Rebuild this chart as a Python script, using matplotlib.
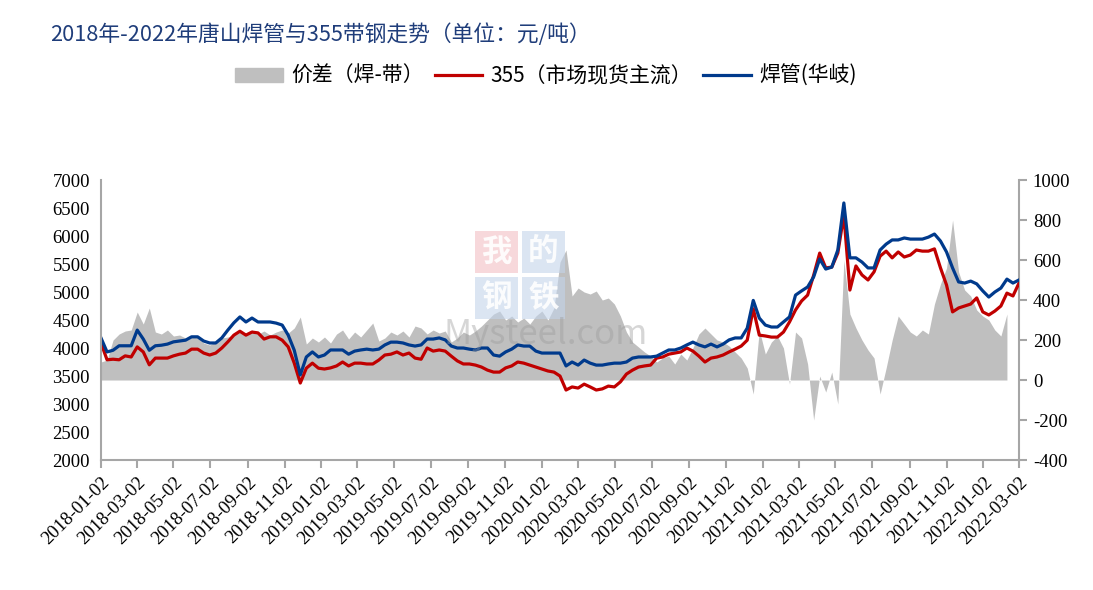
import numpy as np
import pandas as pd
import matplotlib
matplotlib.use('Agg')
import matplotlib.pyplot as plt
from matplotlib.patches import Patch, Rectangle
from matplotlib.lines import Line2D

plt.rcParams['font.family'] = ['Noto Sans CJK SC', 'DejaVu Sans']

# 10-day sampling, 2018-01-02 .. 2022-03-02
dates = pd.date_range('2018-01-02', periods=153, freq='10D')

# 焊管(华岐), 元/吨
weld = [4180, 3930, 3960, 4040, 4040, 4040, 4320, 4160, 3960, 4040,
        4050, 4070, 4110, 4125, 4140, 4200, 4200, 4125, 4090, 4090,
        4180, 4320, 4450, 4555, 4465, 4535, 4465, 4465, 4465, 4445,
        4410, 4230, 3960, 3520, 3840, 3930, 3840, 3875, 3965, 3965,
        3965, 3890, 3945, 3965, 3980, 3965, 3980, 4055, 4105, 4105,
        4090, 4055, 4035, 4055, 4160, 4160, 4180, 4145, 4035, 4000,
        4000, 3980, 3965, 4000, 4000, 3875, 3855, 3930, 3980, 4055,
        4035, 4035, 3945, 3910, 3910, 3910, 3910, 3680, 3750, 3695,
        3785, 3730, 3695, 3695, 3715, 3730, 3730, 3750, 3820, 3840,
        3840, 3840, 3855, 3910, 3965, 3965, 4000, 4055, 4105, 4055,
        4020, 4070, 4020, 4070, 4145, 4180, 4180, 4355, 4850, 4535,
        4410, 4375, 4375, 4465, 4555, 4945, 5020, 5090, 5270, 5590,
        5410, 5445, 5750, 6590, 5610, 5610, 5535, 5430, 5430, 5750,
        5855, 5930, 5930, 5965, 5945, 5945, 5945, 5980, 6035, 5910,
        5715, 5430, 5180, 5160, 5195, 5145, 5020, 4910, 5000, 5070,
        5230, 5160, 5215]

# 355带钢(市场现货主流), 元/吨
strip = [4090, 3790, 3800, 3790, 3860, 3840, 4020, 3930, 3700, 3820,
         3820, 3820, 3860, 3890, 3910, 3980, 3980, 3910, 3875, 3910,
         4000, 4110, 4230, 4300, 4230, 4285, 4270, 4160, 4200, 4200,
         4140, 4020, 3730, 3375, 3640, 3730, 3640, 3625, 3645, 3680,
         3750, 3680, 3730, 3730, 3715, 3715, 3785, 3875, 3890, 3930,
         3875, 3910, 3820, 3800, 4000, 3945, 3965, 3945, 3855, 3770,
         3715, 3715, 3695, 3660, 3605, 3570, 3570, 3645, 3680, 3750,
         3730, 3695, 3660, 3625, 3590, 3570, 3500, 3250, 3305, 3285,
         3355, 3305, 3250, 3270, 3320, 3305, 3395, 3535, 3605, 3660,
         3680, 3695, 3820, 3840, 3890, 3910, 3930, 4000, 3945, 3855,
         3750, 3820, 3840, 3875, 3930, 3980, 4035, 4140, 4700, 4230,
         4215, 4195, 4195, 4285, 4465, 4680, 4840, 4945, 5300, 5695,
         5430, 5445, 5695, 6380, 5035, 5465, 5305, 5215, 5360, 5640,
         5730, 5610, 5715, 5625, 5660, 5750, 5730, 5730, 5770, 5430,
         5125, 4645, 4715, 4750, 4785, 4895, 4645, 4590, 4660, 4750,
         4980, 4930, 5160]

# 价差(焊-带), right axis
spread = [90, 100, 200, 230, 245, 250, 340, 280, 360, 240,
          230, 250, 220, 225, 210, 220, 215, 185, 175, 190,
          210, 215, 225, 240, 235, 250, 230, 245, 225, 240,
          250, 235, 260, 315, 180, 210, 190, 215, 185, 230,
          250, 205, 240, 215, 250, 285, 195, 210, 240, 225,
          245, 215, 270, 260, 230, 250, 235, 245, 190, 210,
          240, 225, 245, 270, 300, 330, 345, 300, 320, 290,
          310, 280, 320, 345, 300, 360, 590, 650, 420, 460,
          440, 430, 445, 400, 410, 380, 320, 240, 190, 165,
          140, 120, 90, 110, 120, 80, 130, 100, 160, 230,
          260, 230, 200, 190, 170, 140, 110, 60, -70, 250,
          130, 190, 220, 160, -20, 240, 210, 80, -200, 20,
          -60, 40, -120, 600, 330, 260, 200, 150, 110, -70,
          60, 200, 320, 280, 240, 220, 250, 230, 380, 480,
          560, 800, 540, 450, 420, 350, 320, 300, 250, 220,
          330, np.nan, np.nan]

tick_dates = pd.date_range('2018-01-01', '2022-03-01', freq='2MS') + pd.Timedelta(days=1)
tick_labels = [d.strftime('%Y-%m-%d') for d in tick_dates]
left_ticks = list(range(2000, 7001, 500))
right_ticks = list(range(-400, 1001, 200))

title = '2018年-2022年唐山焊管与355带钢走势（单位：元/吨）'
names = ['价差（焊-带）', '355（市场现货主流）', '焊管(华岐)']
c_gray, c_red, c_blue = '#BFBFBF', '#C00000', '#003A8C'
spine_c = '#A6A6A6'
serif = 'Liberation Serif'
W, H = 1093, 590

fig = plt.figure(figsize=(10.93, 5.90), dpi=100)
ax = fig.add_axes([0.0924, 0.2203, 0.8399, 0.4746])
ax2 = ax.twinx()

ax2.fill_between(dates, 0, spread, color=c_gray, lw=0)
ax.plot(dates, strip, color=c_red, lw=2.3)
ax.plot(dates, weld, color=c_blue, lw=2.3)
ax.set_zorder(ax2.get_zorder() + 1)
ax.patch.set_visible(False)

ax.set_xlim(tick_dates[0], tick_dates[-1])
ax.set_ylim(2000, 7000)
ax2.set_ylim(-400, 1000)

ax.set_xticks(tick_dates)
ax.set_xticklabels(tick_labels, rotation=45, ha='right', rotation_mode='anchor',
                   fontfamily=serif, fontsize=13.5)
ax.set_yticks(left_ticks)
ax.set_yticklabels([str(v) for v in left_ticks], fontfamily=serif, fontsize=13.5)
ax2.set_yticks(right_ticks)
ax2.set_yticklabels([str(v) for v in right_ticks], fontfamily=serif, fontsize=13.5)

for a in (ax, ax2):
    for s in a.spines.values():
        s.set_color(spine_c)
        s.set_linewidth(1.5)
    a.spines['top'].set_visible(False)
ax.spines['right'].set_visible(False)
ax2.spines['left'].set_visible(False)
ax2.spines['bottom'].set_visible(False)

ax.tick_params(axis='y', length=0, pad=8)
ax.tick_params(axis='x', length=6, width=1.5, color=spine_c, pad=4)
ax2.tick_params(axis='y', length=6, width=1.5, color=spine_c, pad=4)

fig.text(50 / W, 1 - 35 / H, title, fontsize=15.7, color='#1F3D7A',
         ha='left', va='center')

handles = [Patch(color=c_gray), Line2D([], [], color=c_red, lw=2.3),
           Line2D([], [], color=c_blue, lw=2.3)]
fig.legend(handles, names, loc='center', bbox_to_anchor=(0.4995, 0.871), ncol=3,
           frameon=False, fontsize=15, handlelength=2.3, handletextpad=0.4,
           columnspacing=0.5)

# watermark
wm = [('我', 475, 231, '#F2BFC4'), ('的', 522, 231, '#C3D4EA'),
      ('钢', 475, 277, '#C3D4EA'), ('铁', 522, 277, '#C3D4EA')]
for ch, px, py, bg in wm:
    fig.add_artist(Rectangle((px / W, 1 - (py + 42) / H), 43 / W, 42 / H,
                             transform=fig.transFigure, fc=bg, ec='none',
                             alpha=0.6, zorder=5))
    fig.text((px + 21.5) / W, 1 - (py + 21) / H, ch, fontsize=22, color='white',
             weight='bold', ha='center', va='center', alpha=0.9, zorder=6)
fig.text(546 / W, 1 - 334 / H, 'Mysteel.com', fontsize=25, color='#9A9A9A',
         ha='center', va='center', alpha=0.4, zorder=5)

fig.savefig('out.png', dpi=100)
